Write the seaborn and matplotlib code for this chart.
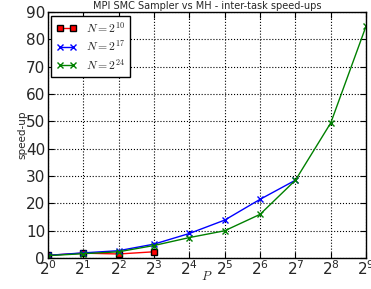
import numpy as np
import pandas as pd
import matplotlib
matplotlib.use("Agg")
import matplotlib.pyplot as plt
import seaborn as sns

# processes P (powers of two) and speed-ups
p_small = [1, 2, 4, 8]
speedup_n10 = [1.0, 1.8, 1.5, 2.3]
p_mid = [1, 2, 4, 8, 16, 32, 64, 128]
speedup_n17 = [1.0, 1.9, 2.7, 5.1, 9.0, 13.9, 21.5, 28.5]
p_big = [1, 2, 4, 8, 16, 32, 64, 128, 256, 512]
speedup_n24 = [0.9, 1.6, 2.3, 4.6, 7.5, 10.0, 16.0, 28.5, 49.5, 85.0]

sns.set_style("ticks")
plt.rcParams["mathtext.fontset"] = "cm"
plt.rcParams["font.family"] = ["DejaVu Sans"]

fig = plt.figure(figsize=(3.71, 2.89), dpi=100)
ax = fig.add_axes([0.129, 0.107, 0.858, 0.851])

series = [
    (p_small, speedup_n10, "red", "s", r"$N=2^{10}$"),
    (p_mid, speedup_n17, "blue", "x", r"$N=2^{17}$"),
    (p_big, speedup_n24, "green", "x", r"$N=2^{24}$"),
]
for xs, ys, col, mk, lab in series:
    df = pd.DataFrame({"P": xs, "speedup": ys})
    sns.lineplot(data=df, x="P", y="speedup", ax=ax, color=col, marker=mk,
                 markersize=4, linewidth=1, label=lab,
                 markeredgecolor="black" if mk == "s" else col,
                 markeredgewidth=1)

ax.set_xscale("log", base=2)
ax.set_xlim(1, 512)
ax.set_ylim(0, 90)
ax.set_xticks(p_big)
ax.set_yticks(range(0, 91, 10))
ax.grid(True, color="black", linestyle=":", linewidth=0.8)
for s in ax.spines.values():
    s.set_color("black")
    s.set_linewidth(1)
ax.tick_params(axis="both", direction="in", labelsize=11, length=4,
               top=True, right=True, color="black")
ax.tick_params(axis="x", pad=1)
ax.tick_params(axis="y", pad=2)
ax.minorticks_off()
ax.set_xlabel(r"$P$", fontsize=9, labelpad=-6)
ax.set_ylabel("speed-up", fontsize=7.5, labelpad=-1)
ax.set_title("MPI SMC Sampler vs MH - inter-task speed-ups", fontsize=7, pad=2)

leg = ax.legend(loc="upper left", fontsize=8.5, numpoints=2, fancybox=False,
                framealpha=1, borderaxespad=0.3, handlelength=1.7,
                labelspacing=0.3, borderpad=0.4)
leg.get_frame().set_edgecolor("black")
leg.get_frame().set_linewidth(1)

fig.savefig("out.png", dpi=100, facecolor="white")
